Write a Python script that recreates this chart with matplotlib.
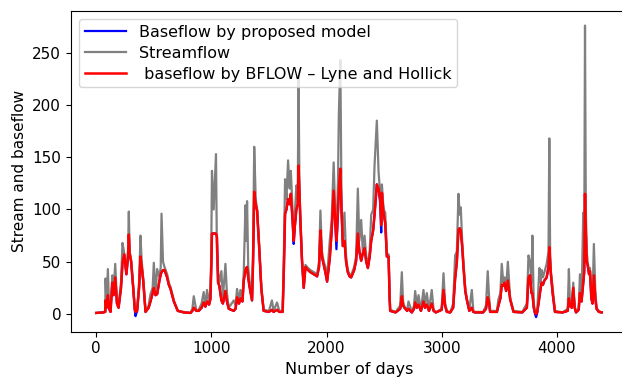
import matplotlib
matplotlib.use("Agg")
from matplotlib import pyplot as plt

# days, with streamflow and the two baseflow estimates
days = [0, 60, 78, 81, 90, 101, 112, 124, 140, 150, 165, 180, 194, 215, 228, 243,
        262, 276, 283, 290, 303, 321, 335, 341, 355, 372, 384, 395, 408, 428, 455,
        471, 490, 500, 515, 529, 549, 560, 567, 580, 593, 616, 630, 645, 674, 708,
        760, 818, 835, 847, 870, 890, 915, 933, 948, 962, 980, 991, 998, 1005, 1020,
        1040, 1048, 1058, 1069, 1087, 1100, 1122, 1135, 1151, 1194, 1210, 1223, 1240,
        1252, 1270, 1281, 1296, 1303, 1310, 1320, 1330, 1353, 1362, 1372, 1385, 1397,
        1417, 1434, 1454, 1500, 1526, 1540, 1570, 1590, 1619, 1630, 1640, 1652, 1666,
        1680, 1690, 1705, 1715, 1725, 1738, 1750, 1757, 1765, 1773, 1787, 1802, 1817,
        1840, 1860, 1890, 1918, 1935, 1947, 1960, 1976, 1990, 2005, 2028, 2045, 2062,
        2075, 2086, 2100, 2107, 2120, 2130, 2142, 2156, 2170, 2185, 2200, 2214, 2240,
        2257, 2272, 2285, 2301, 2315, 2330, 2345, 2359, 2375, 2388, 2405, 2417, 2437,
        2452, 2466, 2475, 2481, 2495, 2510, 2524, 2539, 2548, 2553, 2600, 2640, 2654,
        2665, 2677, 2700, 2712, 2741, 2760, 2770, 2785, 2799, 2820, 2842, 2855, 2871,
        2890, 2914, 2930, 2950, 3000, 3016, 3030, 3045, 3074, 3100, 3117, 3132, 3146,
        3156, 3166, 3178, 3189, 3205, 3218, 3240, 3262, 3275, 3291, 3360, 3385, 3400,
        3410, 3421, 3480, 3493, 3510, 3522, 3535, 3546, 3560, 3575, 3595, 3624, 3700,
        3740, 3754, 3768, 3780, 3788, 3800, 3811, 3820, 3830, 3849, 3860, 3869, 3880,
        3892, 3912, 3928, 3935, 3942, 3949, 3964, 3984, 4050, 4095, 4105, 4114, 4130,
        4143, 4155, 4167, 4190, 4201, 4215, 4230, 4238, 4245, 4252, 4260, 4268, 4280,
        4288, 4300, 4310, 4322, 4335, 4345, 4365, 4390]

streamflow = [1, 1.5, 3, 34, 8, 43, 6, 4, 37, 20, 48, 12, 8, 30, 68, 58,
              40, 60, 98, 60, 52, 27, 5, 3, 5, 30, 75, 50, 34, 3, 8,
              19, 25, 49, 20, 43, 35, 45, 96, 50, 45, 38, 30, 26, 13, 3,
              2, 1, 5, 17, 3, 4, 10, 21, 8, 23, 10, 23, 50, 137, 100,
              153, 60, 40, 30, 41, 15, 48, 20, 6, 13, 8, 24, 12,
              23, 15, 40, 104, 70, 108, 45, 33, 15, 60, 160, 110, 100,
              62, 25, 4, 3, 13, 3, 11, 3, 3, 60, 129, 110, 147,
              120, 137, 100, 75, 95, 123, 110, 226, 120, 92, 53, 27, 47,
              44, 42, 40, 38, 50, 99, 60, 50, 45, 35, 70, 90, 145,
              100, 72, 130, 191, 243, 110, 70, 97, 55, 42, 38, 37, 45,
              55, 120, 70, 90, 60, 75, 55, 47, 60, 95, 100, 142, 185,
              136, 115, 90, 124, 100, 97, 58, 57, 20, 4, 2, 8, 40,
              12, 7, 4, 12, 2, 8, 22, 8, 18, 4, 23, 8, 20,
              4, 23, 4, 1.5, 5, 39, 10, 3, 1.5, 10, 56, 60, 115,
              95, 102, 70, 50, 25, 15, 4, 23, 3, 2, 2, 8, 41,
              20, 3, 3, 14, 20, 48, 30, 35, 25, 50, 15, 3, 2,
              10, 56, 50, 30, 75, 10, 3, 2, 3, 44, 30, 42, 35,
              40, 48, 60, 168, 60, 40, 25, 3, 1.5, 5, 43, 10, 8,
              30, 8, 2, 5, 38, 15, 97, 60, 276, 100, 60, 50, 40,
              44, 20, 12, 67, 20, 6, 3, 1.5]

bflow_baseflow = [1, 1.5, 2, 13, 6, 18, 5, 2, 30, 18, 35, 10, 6, 25, 49, 57,
                  38, 55, 76, 58, 50, 25, 4, 2, 3, 25, 55, 45, 32, 2, 6,
                  12, 20, 25, 18, 19, 32, 38, 40, 42, 42, 35, 28, 24, 12, 3,
                  1.5, 1, 3, 6, 3, 3, 6, 11, 7, 12, 9, 14, 40, 77, 77,
                  77, 74, 30, 27, 13, 10, 22, 12, 5, 3, 5, 16, 10,
                  15, 12, 32, 42, 44, 45, 35, 27, 13, 50, 117, 105, 99,
                  60, 24, 3, 2, 4, 2, 4, 2, 2, 45, 96, 100, 110,
                  105, 115, 90, 70, 85, 100, 105, 142, 115, 89, 51, 25, 45,
                  42, 40, 38, 36, 45, 80, 55, 47, 40, 31, 53, 80, 118,
                  90, 70, 100, 120, 139, 100, 65, 70, 50, 40, 36, 35, 42,
                  51, 77, 60, 51, 58, 63, 50, 44, 55, 70, 80, 95, 124,
                  120, 110, 85, 116, 97, 87, 55, 55, 15, 3, 1.5, 5, 17,
                  8, 6, 3, 5, 1.5, 5, 11, 6, 9, 3, 12, 6, 9,
                  3, 10, 3, 1.5, 4, 23, 8, 2, 1.5, 6, 34, 50, 81,
                  82, 80, 65, 46, 22, 14, 3, 6, 2, 1.5, 1.5, 5, 16,
                  12, 2, 2, 8, 15, 28, 27, 30, 22, 32, 14, 2, 1.5,
                  6, 35, 37, 20, 20, 6, 1, 0, 2, 16, 25, 30, 28,
                  32, 35, 45, 64, 50, 38, 20, 2, 1.5, 3, 15, 8, 6,
                  25, 6, 1.5, 4, 20, 12, 30, 40, 115, 80, 50, 47, 38,
                  41, 15, 10, 37, 15, 5, 2, 1.5]

# days where the proposed model falls below the BFLOW line
model_dip_days = [341, 1715, 1725, 2086, 2100, 2466, 2475, 3811, 3820, 3830]
model_dip_values = [-2, 67, 83, 62, 98, 106, 78, 0, -3, 1]

model_baseflow = list(bflow_baseflow)
for d, v in zip(model_dip_days, model_dip_values):
    model_baseflow[days.index(d)] = v


def main():
    fig = plt.figure(figsize=(6.22, 3.79), dpi=100)
    ax = fig.add_axes([0.1141, 0.1248, 0.8939, 0.8462])

    ax.plot(days, model_baseflow, color='b', lw=1.6, label='Baseflow by proposed model')
    ax.plot(days, streamflow, color='grey', lw=1.6, label='Streamflow')
    ax.plot(days, bflow_baseflow, color='r', lw=1.8,
            label=' baseflow by BFLOW \u2013 Lyne and Hollick')

    ax.set_xticks([0, 1000, 2000, 3000, 4000])
    ax.set_yticks([0, 50, 100, 150, 200, 250])
    ax.tick_params(labelsize=11)
    ax.spines['right'].set_visible(False)
    ax.set_xlabel('Number of days', fontsize=11.5)
    ax.set_ylabel('Stream and baseflow', fontsize=11)
    ax.legend(loc='upper left', fontsize=11.5, labelspacing=0.38, borderpad=0.35,
              handlelength=2.6, handletextpad=0.8)

    fig.savefig('out.png', dpi=100)


if __name__ == "__main__":
    main()
